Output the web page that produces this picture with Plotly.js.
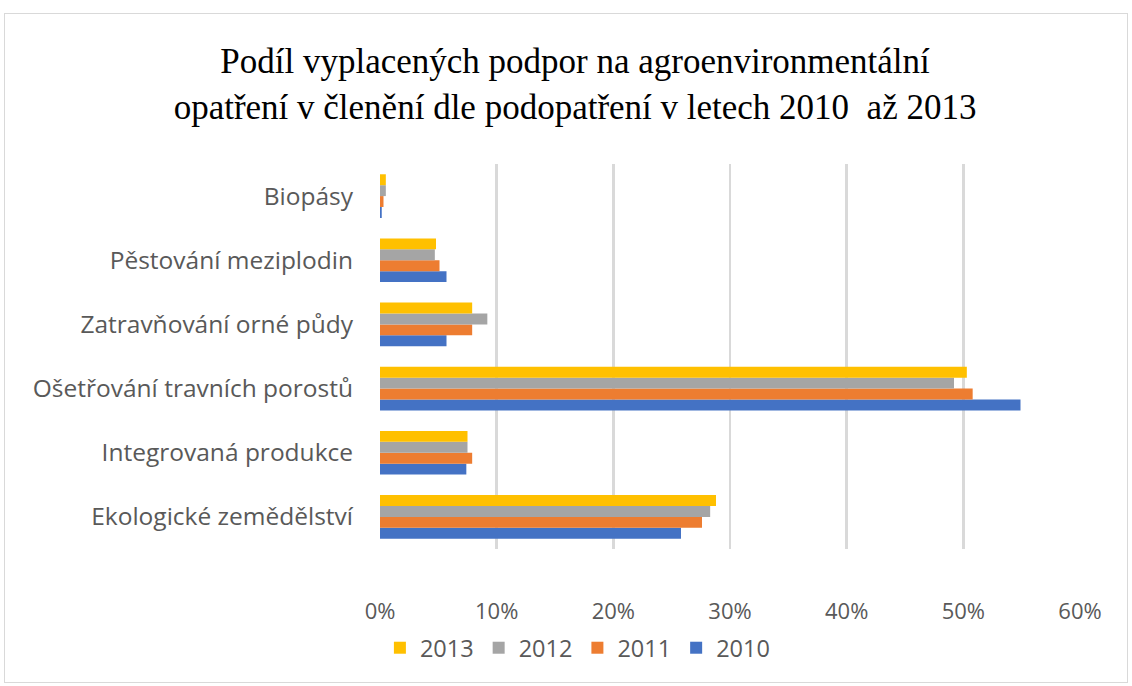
<!DOCTYPE html>
<html>
<head>
<meta charset="utf-8">
<script src="https://cdn.plot.ly/plotly-3.0.1.min.js"></script>
<style>
  html, body { margin: 0; padding: 0; background: #fff; }
  #wrap { position: relative; width: 1132px; height: 686px; }
  #chart { width: 1132px; height: 686px; }
  #frame { position: absolute; left: 4px; top: 13px; width: 1124px; height: 670px; border: 1px solid #d9d9d9; box-sizing: border-box; pointer-events: none; }
</style>
</head>
<body>
<div id="wrap"><div id="chart"></div><div id="frame"></div></div>
<script>
const categories = [
  "Ekologické zemědělství",
  "Integrovaná produkce",
  "Ošetřování travních porostů",
  "Zatravňování orné půdy",
  "Pěstování meziplodin",
  "Biopásy"
];
const years = ["2010", "2011", "2012", "2013"];
const values2010 = [0.258, 0.074, 0.549, 0.057, 0.057, 0.0015];
const values2011 = [0.276, 0.079, 0.508, 0.079, 0.051, 0.003];
const values2012 = [0.283, 0.075, 0.492, 0.092, 0.047, 0.005];
const values2013 = [0.288, 0.075, 0.503, 0.079, 0.048, 0.005];
const tickVals = [0, 0.1, 0.2, 0.3, 0.4, 0.5, 0.6];
const tickText = ["0%", "10%", "20%", "30%", "40%", "50%", "60%"];
const colors = ["#4472C4", "#ED7D31", "#A5A5A5", "#FFC000"];

const series = [values2010, values2011, values2012, values2013];
const traces = series.map((vals, i) => ({
  type: "bar",
  orientation: "h",
  name: years[i],
  y: categories,
  x: vals,
  marker: { color: colors[i] },
  hoverinfo: "x+name"
}));

const layout = {
  width: 1132,
  height: 686,
  margin: { l: 380, r: 52, t: 164, b: 137 },
  paper_bgcolor: "#ffffff",
  plot_bgcolor: "#ffffff",
  barmode: "group",
  bargap: 0.32,
  bargroupgap: 0,
  title: {
    text: "Podíl vyplacených podpor na agroenvironmentální<br>opatření v členění dle podopatření v letech 2010  až 2013",
    font: { family: "Liberation Serif, serif", size: 35, color: "#000000" },
    x: 0.508, xanchor: "center",
    y: 0.893, yanchor: "middle"
  },
  xaxis: {
    range: [0, 0.6],
    tickvals: tickVals,
    ticktext: tickText,
    showgrid: true,
    gridcolor: "#d9d9d9",
    gridwidth: 2.5,
    zeroline: false,
    showline: false,
    ticks: "",
    ticklabelstandoff: 47,
    tickfont: { family: "Open Sans, sans-serif", size: 22, color: "#595959" },
    fixedrange: true
  },
  yaxis: {
    type: "category",
    categoryorder: "array",
    categoryarray: categories,
    showgrid: false,
    zeroline: false,
    showline: false,
    ticks: "",
    ticklabelstandoff: 26,
    tickfont: { family: "Open Sans, sans-serif", size: 24.5, color: "#595959" },
    fixedrange: true
  },
  legend: {
    orientation: "h",
    traceorder: "reversed",
    x: 0.282, xanchor: "center",
    y: -0.257, yanchor: "middle",
    font: { family: "Open Sans, sans-serif", size: 23.5, color: "#595959" },
    itemwidth: 30
  },
  showlegend: true
};

Plotly.newPlot("chart", traces, layout, { displayModeBar: false, staticPlot: true });
</script>
</body>
</html>
